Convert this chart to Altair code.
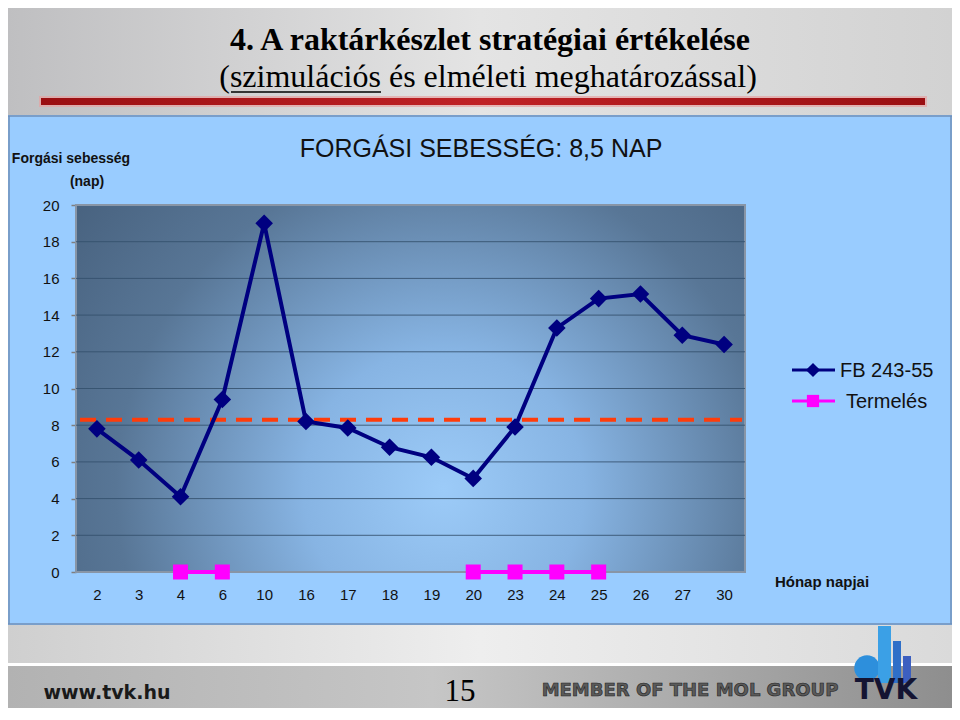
import altair as alt
import pandas as pd

# ---------------- data ----------------
days = ["2", "3", "4", "6", "10", "16", "17", "18", "19", "20", "23", "24", "25", "26", "27", "30"]
fb_values = [7.8, 6.1, 4.1, 9.4, 19.0, 8.2, 7.85, 6.8, 6.25, 5.1, 7.9, 13.3, 14.9, 15.15, 12.9, 12.4]
term_days = ["4", "6", "20", "23", "24", "25"]
term_values = [0, 0, 0, 0, 0, 0]
term_segments = ["a", "a", "b", "b", "b", "b"]
target_value = [8.3]
y_ticks = [0, 2, 4, 6, 8, 10, 12, 14, 16, 18, 20]
grid_values = [2, 4, 6, 8, 10, 12, 14, 16, 18]
series_names = ["FB 243-55", "Termelés"]

W, H = 669, 367
SANS = "Liberation Sans"
SERIF = "Liberation Serif"

fb_df = pd.DataFrame({"day": days, "value": fb_values})
term_df = pd.DataFrame({"day": term_days, "value": term_values, "seg": term_segments})
grid_df = pd.DataFrame({"value": grid_values})
target_df = pd.DataFrame({"value": target_value})
one = pd.DataFrame({"a": [0]})

x_axis = alt.Axis(labelAngle=0, ticks=False, domain=False, grid=False, labelFont=SANS,
                  labelFontSize=15, labelColor="#111111", labelPadding=15, title=None)
y_axis = alt.Axis(values=y_ticks, grid=False, domain=False, tickSize=5, tickColor="#7f7f7f",
                  tickWidth=1.5, labelFont=SANS, labelFontSize=15, labelColor="#111111",
                  labelPadding=12, title=None)

x_scale = alt.Scale(domain=days, type="point", padding=0.5)
y_scale = alt.Scale(domain=[0, 20], nice=False, zero=True)

X = alt.X("day:N", scale=x_scale, axis=x_axis, title=None)
Y = alt.Y("value:Q", scale=y_scale, axis=y_axis, title=None)


def grad_h(stops):
    return alt.Gradient(gradient="linear", x1=0, y1=0, x2=1, y2=0,
                        stops=[alt.GradientStop(offset=o, color=c) for o, c in stops])


def box(x1, x2, y1, y2, fill, **kw):
    return alt.Chart(one).mark_rect(fill=fill, **kw).encode(
        x=alt.value(x1), x2=alt.value(x2), y=alt.value(y1), y2=alt.value(y2))


def hline(x1, x2, y, color, width):
    return alt.Chart(one).mark_rule(color=color, strokeWidth=width).encode(
        x=alt.value(x1), x2=alt.value(x2), y=alt.value(y))


def vline(x, y1, y2, color, width):
    return alt.Chart(one).mark_rule(color=color, strokeWidth=width).encode(
        x=alt.value(x), y=alt.value(y1), y2=alt.value(y2))


def txt(s, x, y, size, weight="normal", font=SANS, color="#111111", align="center", **kw):
    return alt.Chart(one).mark_text(text=s, font=font, fontSize=size, fontWeight=weight,
                                    color=color, align=align, baseline="alphabetic", **kw).encode(
        x=alt.value(x), y=alt.value(y))


# ---------------- slide decoration (blue chart box = chart background) ----------------
top_bg = box(-68, 876, -197, -90, grad_h([(0, "#bfbfc1"), (0.5, "#e4e4e4"), (1, "#d2d2d2")]))
red_glow = box(-37, 851, -109, -98, "#e6a3a3", opacity=0.7)
red_bar = box(-35, 849, -107, -100, grad_h([(0, "#9a0f12"), (0.5, "#c02226"), (1, "#9a0f12")]))
title = txt("4. A raktárkészlet stratégiai értékelése", 414, -155, 32, "bold", SERIF, "#000000")
subtitle = txt("(szimulációs és elméleti meghatározással)", 412, -118, 32, "normal", SERIF, "#000000")
underline = hline(155, 305, -113, "#000000", 1.5)

box_top = hline(-68, 876, -89, "#6f8fb8", 1.5)
box_bottom = hline(-68, 876, 419, "#6f8fb8", 1.5)
box_left = vline(-67, -89, 419, "#6f8fb8", 1.5)
box_right = vline(875, -89, 419, "#6f8fb8", 1.5)

bottom_bg = box(-68, 876, 420, 503, grad_h([(0, "#cfcfcf"), (0.5, "#eeeeee"), (1, "#dadada")]))
white_line = box(-68, 876, 458, 461, "#ffffff")
footer_band = box(-68, 876, 461, 503, grad_h([(0, "#b2b2b2"), (0.45, "#c6c6c6"), (1, "#8e8e8e")]))
footer_url = txt("www.tvk.hu", 31, 494, 19, "bold", "DejaVu Sans", "#1a1a1a")
footer_page = txt("15", 384, 496, 31, "normal", SERIF, "#000000")
footer_mol = txt("MEMBER OF THE MOL GROUP", 614, 491, 18, "bold", "DejaVu Sans", "#5a5a5a",
                 stroke="#1f1f1f", strokeWidth=0.6)
logo_cloud = alt.Chart(one).mark_point(shape="circle", filled=True, size=650, color="#2d8fdc", opacity=1).encode(
    x=alt.value(791), y=alt.value(463))
logo_b1 = box(802, 815, 421, 478, "#3ba0e6")
logo_b2 = box(817, 825, 436, 478, "#2f6fc8")
logo_b3 = box(827, 835, 451, 478, "#3c5fc0")
logo_txt = txt("TVK", 810, 494, 28, "bold", "DejaVu Sans", "#141432")

# ---------------- chart ----------------
plot_bg = box(0, W, 0, H, alt.Gradient(
    gradient="radial", x1=0.55, y1=0.65, r1=0, x2=0.55, y2=0.65, r2=0.7,
    stops=[alt.GradientStop(offset=0, color="#9ccbf8"),
           alt.GradientStop(offset=0.3, color="#87b4e3"),
           alt.GradientStop(offset=0.7, color="#587696"),
           alt.GradientStop(offset=1, color="#48627f")]),
    stroke="#8895a6", strokeWidth=2)

grid = alt.Chart(grid_df).mark_rule(color="#34506c", strokeWidth=1, opacity=0.85).encode(
    y=Y, x=alt.value(0), x2=alt.value(W))

target = alt.Chart(target_df).mark_rule(color="#ff3c0a", strokeWidth=4, strokeDash=[16, 10]).encode(
    y=Y, x=alt.value(4), x2=alt.value(666))

fb_line = alt.Chart(fb_df).mark_line(color="#000080", strokeWidth=4).encode(x=X, y=Y)
fb_pts = alt.Chart(fb_df).mark_point(shape="diamond", filled=True, size=310, color="#000080",
                                     opacity=1).encode(x=X, y=Y)
term_line = alt.Chart(term_df).mark_line(color="#ff00ff", strokeWidth=4).encode(
    x=X, y=Y, detail="seg:N")
term_pts = alt.Chart(term_df).mark_point(shape="square", filled=True, size=225, color="#ff00ff",
                                         opacity=1).encode(x=X, y=Y)

chart_title = txt("FORGÁSI SEBESSÉG: 8,5 NAP", 405, -48, 25, "normal", SANS, "#111111")
y_title1 = txt("Forgási sebesség", -5, -42, 14, "bold", SANS, "#111111")
y_title2 = txt("(nap)", 11, -19, 14, "bold", SANS, "#111111")
x_title = txt("Hónap napjai", 746, 382, 15, "bold", SANS, "#111111")

# legend
leg_fb_line = hline(716, 759, 165, "#000080", 3)
leg_fb_pt = alt.Chart(one).mark_point(shape="diamond", filled=True, size=200, color="#000080",
                                      opacity=1).encode(x=alt.value(737), y=alt.value(165))
leg_fb_txt = txt(series_names[0], 764, 172, 20, "normal", SANS, "#111111", align="left")
leg_t_line = hline(716, 759, 196, "#ff00ff", 3)
leg_t_pt = alt.Chart(one).mark_point(shape="square", filled=True, size=150, color="#ff00ff",
                                     opacity=1).encode(x=alt.value(737), y=alt.value(196))
leg_t_txt = txt(series_names[1], 770, 203, 20, "normal", SANS, "#111111", align="left")

chart = alt.layer(
    top_bg, red_glow, red_bar, title, subtitle, underline,
    bottom_bg, white_line, footer_band, footer_url, footer_page, footer_mol,
    logo_cloud, logo_b1, logo_b2, logo_b3, logo_txt,
    box_top, box_bottom, box_left, box_right,
    plot_bg, grid, target, fb_line, fb_pts, term_line, term_pts,
    chart_title, y_title1, y_title2, x_title,
    leg_fb_line, leg_fb_pt, leg_fb_txt, leg_t_line, leg_t_pt, leg_t_txt,
).properties(
    width=W, height=H,
    padding={"left": 68, "top": 197, "right": 207, "bottom": 136},
    autosize=alt.AutoSizeParams(type="none"),
    background="#99ccff",
).configure_view(stroke=None)

chart.save("out.html", embed_options={"renderer": "svg", "actions": False})
